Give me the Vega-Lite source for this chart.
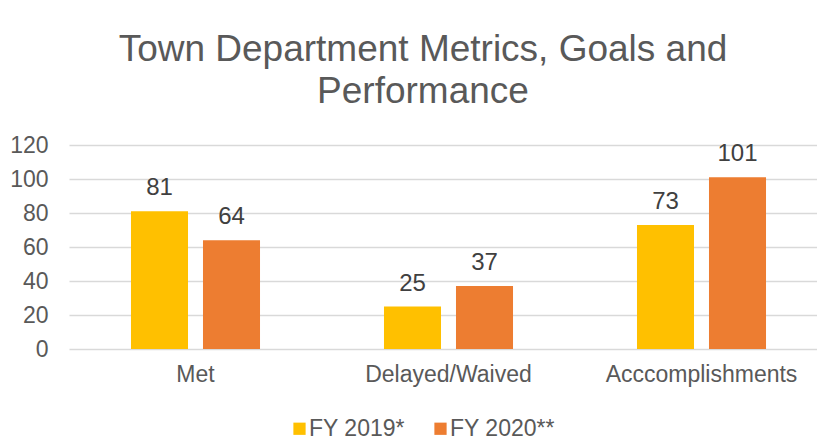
{
  "$schema": "https://vega.github.io/schema/vega-lite/v6.json",
  "width": 759,
  "height": 204,
  "autosize": "none",
  "padding": {"left": 69, "top": 145, "right": 0, "bottom": 92},
  "background": "white",
  "config": {"view": {"stroke": null}, "font": "Liberation Sans"},
  "title": {
    "text": ["Town Department Metrics, Goals and", "Performance"],
    "fontSize": 37,
    "font": "Liberation Sans",
    "fontWeight": "normal",
    "color": "#595959",
    "lineHeight": 42,
    "anchor": "middle",
    "dx": -25.5,
    "baseline": "alphabetic",
    "offset": -6
  },
  "data": {
    "values": [
      {"category": "Met", "series": "FY 2019*", "value": 81},
      {"category": "Met", "series": "FY 2020**", "value": 64},
      {"category": "Delayed/Waived", "series": "FY 2019*", "value": 25},
      {"category": "Delayed/Waived", "series": "FY 2020**", "value": 37},
      {"category": "Acccomplishments", "series": "FY 2019*", "value": 73},
      {"category": "Acccomplishments", "series": "FY 2020**", "value": 101}
    ]
  },
  "encoding": {
    "x": {
      "field": "category",
      "type": "nominal",
      "sort": ["Met", "Delayed/Waived", "Acccomplishments"],
      "scale": {"paddingInner": 0.49, "paddingOuter": 0.245},
      "axis": {
        "title": null,
        "labelAngle": 0,
        "labelFontSize": 23,
        "labelColor": "#595959",
        "labelLimit": 0,
        "ticks": false,
        "domain": false,
        "labelPadding": 14
      }
    },
    "xOffset": {
      "field": "series",
      "type": "nominal",
      "scale": {"paddingInner": 0.208, "paddingOuter": 0}
    },
    "y": {
      "field": "value",
      "type": "quantitative",
      "scale": {"domain": [0, 120]},
      "axis": {
        "title": null,
        "values": [0, 20, 40, 60, 80, 100, 120],
        "labelFontSize": 23,
        "labelColor": "#595959",
        "ticks": false,
        "domain": false,
        "labelPadding": 21,
        "gridColor": "#d9d9d9",
        "gridWidth": 1.5
      }
    }
  },
  "layer": [
    {
      "mark": {"type": "bar"},
      "encoding": {
        "color": {
          "field": "series",
          "type": "nominal",
          "scale": {"domain": ["FY 2019*", "FY 2020**"], "range": ["#FFC000", "#ED7D31"]},
          "legend": {
            "orient": "none",
            "legendX": 219,
            "legendY": 272,
            "direction": "horizontal",
            "title": null,
            "symbolType": "square",
            "symbolSize": 150,
            "symbolStrokeWidth": 0,
            "labelFontSize": 23,
            "labelColor": "#595959",
            "labelOffset": -2,
            "columnPadding": 24
          }
        }
      }
    },
    {
      "mark": {"type": "text", "dy": -16, "baseline": "alphabetic", "fontSize": 24, "color": "#404040"},
      "encoding": {"text": {"field": "value", "type": "quantitative"}}
    }
  ]
}
